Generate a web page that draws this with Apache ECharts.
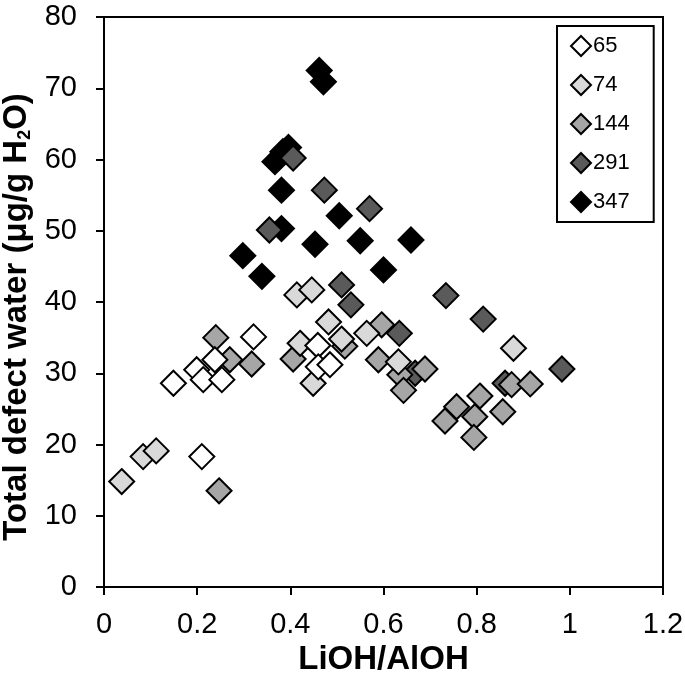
<!DOCTYPE html>
<html>
<head>
<meta charset="utf-8">
<script src="https://cdn.jsdelivr.net/npm/echarts@6/dist/echarts.min.js"></script>
<style>html,body{margin:0;padding:0;background:#fff}#c{width:685px;height:685px}</style>
</head>
<body>
<div id="c"></div>
<script>
const seriesNames = ['65', '74', '144', '291', '347'];
const seriesColors = ['#ffffff', '#d9d9d9', '#a6a6a6', '#5a5a5a', '#000000'];
const xTicks = [0, 0.2, 0.4, 0.6, 0.8, 1, 1.2];
const yTicks = [0, 10, 20, 30, 40, 50, 60, 70, 80];

const s65 = [
  [0.149, 28.6], [0.199, 30.5], [0.213, 29.1], [0.238, 31.9], [0.253, 29.1],
  [0.321, 35.1], [0.210, 18.3], [0.459, 33.9], [0.460, 30.9], [0.485, 31.2]
];
const s74 = [
  [0.038, 14.8], [0.084, 18.3], [0.112, 19.1], [0.421, 34.2], [0.414, 41.0],
  [0.446, 41.7], [0.482, 37.2], [0.449, 28.6], [0.510, 34.8], [0.564, 35.6],
  [0.632, 31.6], [0.879, 33.5]
];
const s144 = [
  [0.247, 13.5], [0.240, 35.0], [0.270, 31.9], [0.317, 31.3], [0.406, 32.0],
  [0.517, 33.8], [0.596, 36.8], [0.589, 31.9], [0.635, 29.8], [0.689, 30.6],
  [0.643, 27.6], [0.875, 28.4], [0.915, 28.5], [0.807, 26.8], [0.757, 25.3],
  [0.732, 23.3], [0.796, 23.9], [0.856, 24.6], [0.794, 21.0]
];
const s291 = [
  [0.406, 60.2], [0.473, 55.7], [0.355, 50.1], [0.570, 53.1], [0.510, 42.4],
  [0.530, 39.6], [0.634, 35.6], [0.668, 30.0], [0.734, 40.9], [0.814, 37.6],
  [0.983, 30.6], [0.861, 28.6]
];
const s347 = [
  [0.462, 72.5], [0.471, 70.9], [0.396, 61.7], [0.384, 61.1], [0.367, 59.7],
  [0.381, 55.7], [0.505, 52.1], [0.381, 50.3], [0.298, 46.5], [0.339, 43.6],
  [0.453, 48.1], [0.550, 48.6], [0.659, 48.7], [0.600, 44.5]
];
const allData = [s65, s74, s144, s291, s347];

const FONT = '"Liberation Sans", Arial, sans-serif';
const chart = echarts.init(document.getElementById('c'), null, {renderer: 'canvas'});

// draw the high-temperature series first so lighter ones sit on top, as in the reference
const drawOrder = [4, 3, 2, 1, 0];
const option = {
  animation: false,
  backgroundColor: '#ffffff',
  grid: {left: 104, right: 22, top: 17, bottom: 98, containLabel: false, outerBoundsMode: 'none',
    show: true, borderColor: '#000', borderWidth: 2, backgroundColor: 'transparent'},
  legend: {
    orient: 'vertical', left: 557, top: 26,
    padding: [9, 24, 9, 13],
    itemWidth: 20, itemHeight: 20, itemGap: 17,
    borderColor: '#000', borderWidth: 2,
    icon: 'diamond',
    textStyle: {fontFamily: FONT, fontSize: 22, color: '#000', padding: [0, 0, 0, -3]},
    data: seriesNames
  },
  xAxis: {
    type: 'value', min: xTicks[0], max: xTicks[xTicks.length - 1], interval: 0.2,
    name: 'LiOH/AlOH', nameLocation: 'middle', nameGap: 52,
    nameTextStyle: {fontFamily: FONT, fontSize: 33, fontWeight: 'bold', color: '#000'},
    axisLine: {show: true, lineStyle: {color: '#000', width: 2}},
    axisTick: {show: true, length: 8, lineStyle: {color: '#000', width: 2}},
    axisLabel: {fontFamily: FONT, fontSize: 29, color: '#000', margin: 23,
      formatter: v => String(+v.toFixed(1))},
    splitLine: {show: false}
  },
  yAxis: {
    type: 'value', min: yTicks[0], max: yTicks[yTicks.length - 1], interval: 10,
    name: 'Total defect water (μg/g H{sub|2}O)', nameLocation: 'middle', nameGap: 70,
    nameTextStyle: {fontFamily: FONT, fontSize: 33, fontWeight: 'bold', color: '#000',
      padding: [0, 30, 0, 0],
      rich: {sub: {fontFamily: FONT, fontSize: 18, fontWeight: 'bold', color: '#000', verticalAlign: 'bottom', padding: [15, 0, 0, 0]}}},
    axisLine: {show: true, lineStyle: {color: '#000', width: 2}},
    axisTick: {show: true, length: 8, lineStyle: {color: '#000', width: 2}},
    axisLabel: {fontFamily: FONT, fontSize: 29, color: '#000', margin: 27},
    splitLine: {show: false}
  },
  series: drawOrder.map(i => ({
    name: seriesNames[i], type: 'scatter', data: allData[i],
    symbol: 'diamond', symbolSize: 25,
    itemStyle: {color: seriesColors[i], borderColor: '#000', borderWidth: 2, opacity: 1}
  }))
};
chart.setOption(option);
</script>
</body>
</html>
